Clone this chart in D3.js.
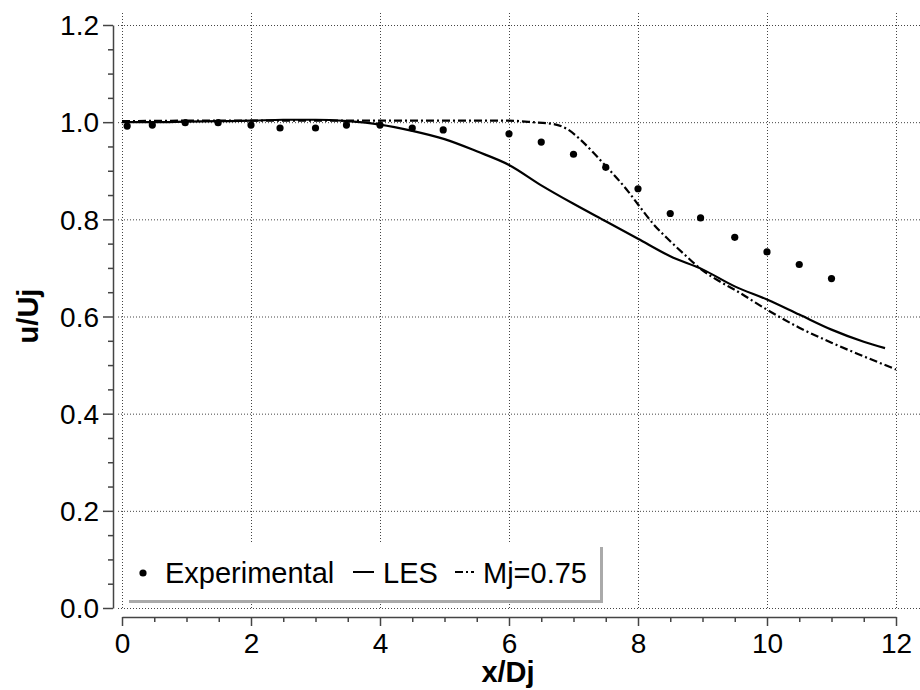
<!DOCTYPE html>
<html>
<head>
<meta charset="utf-8">
<script src="https://cdn.jsdelivr.net/npm/d3@7"></script>
<style>
  body { margin: 0; background: #fff; }
  text { font-family: Arial, "Liberation Sans", sans-serif; }
</style>
</head>
<body>
<div id="chart"></div>
<script>
// Data
const expX = [0.08, 0.47, 0.98, 1.49, 2.0, 2.45, 3.0, 3.48, 4.0, 4.5, 4.98, 6.0, 6.5, 7.0, 7.5, 8.0, 8.5, 8.97, 9.5, 10.0, 10.5, 11.0];
const expY = [0.992, 0.994, 0.999, 0.999, 0.994, 0.988, 0.988, 0.994, 0.994, 0.988, 0.984, 0.976, 0.959, 0.934, 0.907, 0.863, 0.812, 0.803, 0.763, 0.733, 0.707, 0.678];

const lesX = [0, 0.5, 1, 1.5, 2, 2.5, 3, 3.5, 4, 4.5, 5, 5.5, 6, 6.5, 7, 7.5, 8, 8.5, 9, 9.5, 10, 10.5, 11, 11.5, 11.83];
const lesY = [1.0, 1.0, 1.001, 1.002, 1.003, 1.005, 1.005, 1.002, 0.995, 0.982, 0.965, 0.94, 0.912, 0.87, 0.832, 0.796, 0.76, 0.724, 0.697, 0.662, 0.635, 0.604, 0.573, 0.548, 0.535];

const mjX = [0, 1, 2, 3, 4, 5, 6, 6.37, 6.69, 6.9, 7.1, 7.31, 7.52, 7.82, 8.01, 8.24, 8.5, 8.75, 8.98, 9.27, 9.5, 10, 10.5, 11, 11.5, 12];
const mjY = [1.002, 1.003, 1.003, 1.003, 1.003, 1.003, 1.003, 1.0, 0.996, 0.986, 0.965, 0.937, 0.907, 0.862, 0.829, 0.79, 0.755, 0.724, 0.697, 0.672, 0.655, 0.614, 0.577, 0.546, 0.518, 0.491];

const xTicks = [0, 2, 4, 6, 8, 10, 12];
const yTicks = [0, 0.2, 0.4, 0.6, 0.8, 1.0, 1.2];
const legendLabels = ["Experimental", "LES", "Mj=0.75"];

const width = 920;
const height = 690;
const svg = d3.select('#chart').append('svg')
    .attr('width', width)
    .attr('height', height);

const x = d3.scaleLinear().domain([0, 12]).range([122, 896]);
const y = d3.scaleLinear().domain([0, 1.2]).range([608, 25]);

// dotted grid, runs a bit past the frame like the original
const grid = svg.append('g').attr('stroke', '#444').attr('stroke-width', 1).attr('stroke-dasharray', '1,2');
grid.selectAll('line.v').data(xTicks).enter().append('line')
    .attr('class', 'v')
    .attr('x1', d => x(d) + 0.5).attr('x2', d => x(d) + 0.5)
    .attr('y1', 13).attr('y2', y(0));
grid.selectAll('line.h').data(yTicks).enter().append('line')
    .attr('class', 'h')
    .attr('x1', x(0) - 4).attr('x2', width)
    .attr('y1', d => y(d) + 0.5).attr('y2', d => y(d) + 0.5);

// y axis (detached to the left)
const yAxisG = svg.append('g').attr('transform', 'translate(113,0)');
yAxisG.call(d3.axisLeft(y).tickValues(d3.range(0, 1.2001, 0.05)).tickSize(5).tickSizeOuter(0).tickFormat(''));
yAxisG.call(g => g.selectAll('.tick').filter(d => yTicks.some(t => Math.abs(t - d) < 1e-6)).select('line').attr('x2', -10));
yAxisG.selectAll('.tick').filter(d => yTicks.some(t => Math.abs(t - d) < 1e-6)).append('text')
    .attr('x', -14).attr('dy', '0.35em').attr('fill', '#000')
    .attr('text-anchor', 'end')
    .style('font-size', '28px')
    .text(d => d3.format('.1f')(d));
yAxisG.selectAll('path, line').attr('stroke', '#444').attr('stroke-width', 1.5);

// x axis (detached below)
const xAxisG = svg.append('g').attr('transform', 'translate(0,617)');
xAxisG.call(d3.axisBottom(x).tickValues(d3.range(0, 12.001, 0.5)).tickSize(5).tickSizeOuter(0).tickFormat(''));
xAxisG.call(g => g.selectAll('.tick').filter(d => xTicks.includes(d)).select('line').attr('y2', 9));
xAxisG.selectAll('.tick').filter(d => xTicks.includes(d)).append('text')
    .attr('y', 36).attr('fill', '#000')
    .attr('text-anchor', 'middle')
    .style('font-size', '28px')
    .text(d => d);
xAxisG.selectAll('path, line').attr('stroke', '#444').attr('stroke-width', 1.5);

// axis titles
svg.append('text')
    .attr('x', 508).attr('y', 682)
    .attr('text-anchor', 'middle')
    .style('font-size', '29px').style('font-weight', 'bold')
    .text('x/Dj');
svg.append('text')
    .attr('transform', 'translate(38,316) rotate(-90)')
    .attr('text-anchor', 'middle')
    .style('font-size', '29px').style('font-weight', 'bold')
    .text('u/Uj');

// curves
const line = d3.line().x(d => x(d[0])).y(d => y(d[1])).curve(d3.curveMonotoneX);
svg.append('path')
    .datum(d3.zip(lesX, lesY))
    .attr('fill', 'none').attr('stroke', '#000').attr('stroke-width', 2.2)
    .attr('d', line);
svg.append('path')
    .datum(d3.zip(mjX, mjY))
    .attr('fill', 'none').attr('stroke', '#000').attr('stroke-width', 2.2)
    .attr('stroke-dasharray', '8,3,2,3')
    .attr('d', line);

svg.append('g').selectAll('circle')
    .data(d3.zip(expX, expY))
    .enter().append('circle')
    .attr('cx', d => x(d[0])).attr('cy', d => y(d[1]))
    .attr('r', 3.6).attr('fill', '#000');

// legend box with grey drop shadow
const lg = svg.append('g');
lg.append('rect').attr('x', 129).attr('y', 547).attr('width', 474).attr('height', 56).attr('fill', '#aaa');
lg.append('rect').attr('x', 126).attr('y', 544).attr('width', 474).attr('height', 56).attr('fill', '#fff');
lg.append('circle').attr('cx', 143).attr('cy', 573).attr('r', 3.6).attr('fill', '#000');
lg.append('line').attr('x1', 353).attr('x2', 374).attr('y1', 572).attr('y2', 572).attr('stroke', '#000').attr('stroke-width', 2);
lg.append('line').attr('x1', 455).attr('x2', 474).attr('y1', 572).attr('y2', 572).attr('stroke', '#000').attr('stroke-width', 2).attr('stroke-dasharray', '8,3,2,3');
const legendX = [165, 383, 483];
lg.selectAll('text').data(legendLabels).enter().append('text')
    .attr('x', (d, i) => legendX[i]).attr('y', 583)
    .style('font-size', '29px')
    .text(d => d);
</script>
</body>
</html>
